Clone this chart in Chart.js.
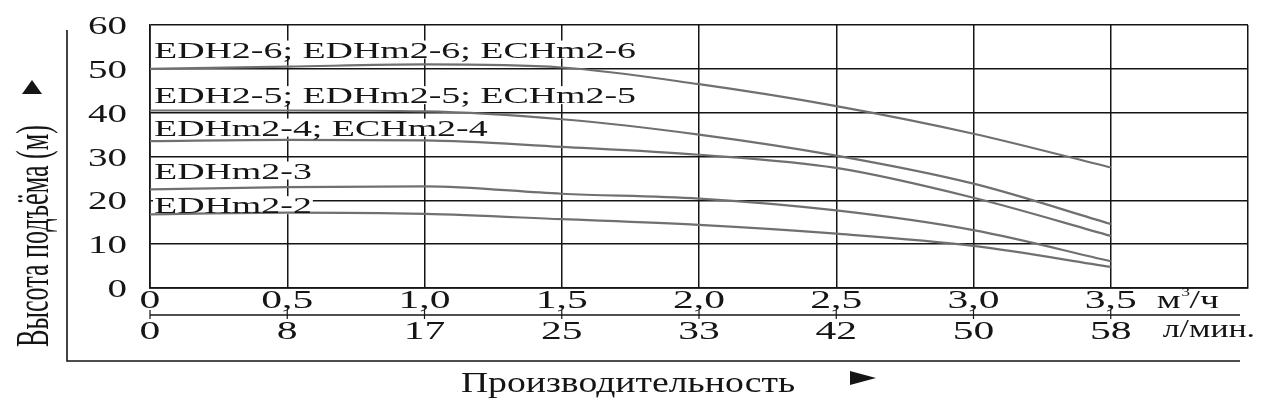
<!DOCTYPE html>
<html>
<head>
<meta charset="utf-8">
<script src="https://cdn.jsdelivr.net/npm/chart.js@4.4.1/dist/chart.umd.min.js"></script>
<style>
  html, body { margin: 0; padding: 0; background: #fff; }
  #wrap { width: 1280px; height: 404px; }
</style>
</head>
<body>
<div id="wrap"><canvas id="c"></canvas></div>
<script>
// flow, m3/h
const flowM3h = [0, 0.5, 1.0, 1.5, 2.0, 2.5, 3.0, 3.5];
const flowM3hLabels = ['0', '0,5', '1,0', '1,5', '2,0', '2,5', '3,0', '3,5'];
const flowLpmLabels = ['0', '8', '17', '25', '33', '42', '50', '58'];
const headTicks = [0, 10, 20, 30, 40, 50, 60];

// head, m
const headEDH2_6 = [50, 50.5, 51, 50.3, 46.5, 41.5, 35.2, 27.5];
const headEDH2_5 = [40.5, 40.5, 40.3, 38.5, 35, 30.2, 23.8, 14.6];
const headEDHm2_4 = [33.5, 33.8, 33.7, 32.2, 30.4, 27.4, 20.6, 11.9];
const headEDHm2_3 = [22.5, 23, 23.2, 21.5, 20.4, 17.7, 13.2, 6.1];
const headEDHm2_2 = [16.8, 17.2, 16.9, 15.7, 14.4, 12.4, 9.6, 4.8];

const curveNames = [
  'EDH2-6; EDHm2-6; ECHm2-6',
  'EDH2-5; EDHm2-5; ECHm2-5',
  'EDHm2-4; ECHm2-4',
  'EDHm2-3',
  'EDHm2-2'
];
const curveLabelAt = [54.4, 44, 36.6, 26.8, 18.9];

const SERIF = '"Liberation Serif", "DejaVu Serif", serif';
const INK = '#151515';

function pts(ys) {
  return ys.map((y, i) => ({ x: flowM3h[i], y: y }));
}

// text stretched horizontally, like the scanned sheet
function wideText(ctx, text, x, y, size, sx, align) {
  ctx.save();
  ctx.font = size + 'px ' + SERIF;
  const w = ctx.measureText(text).width * sx;
  let left = x;
  if (align === 'center') left = x - w / 2;
  if (align === 'right') left = x - w;
  ctx.translate(left, y);
  ctx.scale(sx, 1);
  ctx.textAlign = 'left';
  ctx.textBaseline = 'alphabetic';
  ctx.fillText(text, 0, 0);
  ctx.restore();
  return w;
}

function nameScale(ctx) {
  ctx.font = '23px ' + SERIF;
  return 482 / ctx.measureText(curveNames[0]).width;
}

const extras = {
  id: 'extras',
  beforeDatasetsDraw(chart) {
    // white knock-out behind the curve names, over the grid
    const { ctx, chartArea, scales } = chart;
    ctx.save();
    const sx = nameScale(ctx);
    ctx.fillStyle = '#fff';
    curveNames.forEach((name, i) => {
      const px = chartArea.left + 4;
      const py = scales.y.getPixelForValue(curveLabelAt[i]);
      const w = ctx.measureText(name).width * sx;
      ctx.fillRect(px - 1, py - 9, w + 2, 18);
    });
    ctx.restore();
  },
  afterDatasetsDraw(chart) {
    const { ctx, chartArea, scales } = chart;
    const x = scales.x, y = scales.y;
    ctx.save();
    ctx.fillStyle = INK;
    ctx.strokeStyle = INK;

    // y tick labels
    headTicks.forEach(v => {
      wideText(ctx, String(v), 127, y.getPixelForValue(v) + 9, 26, 1.5, 'right');
    });

    // curve names
    const sxName = nameScale(ctx);
    curveNames.forEach((name, i) => {
      const py = y.getPixelForValue(curveLabelAt[i]);
      wideText(ctx, name, chartArea.left + 4, py + 8, 23, sxName, 'left');
    });

    // row 1: m3/h
    const yRow1 = chartArea.bottom + 20;
    flowM3h.forEach((q, i) => {
      wideText(ctx, flowM3hLabels[i], x.getPixelForValue(q), yRow1, 26, 1.6, 'center');
    });
    const ux = x.getPixelForValue(3.5) + 46;
    const mw = wideText(ctx, 'м', ux, yRow1, 26, 1.45, 'left');
    wideText(ctx, '3', ux + mw + 1, yRow1 - 12, 13, 1.3, 'left');
    wideText(ctx, '/ч', ux + mw + 9, yRow1, 26, 1.45, 'left');

    // line between the two flow rows, with ticks
    const yMid = chartArea.bottom + 27;
    ctx.lineWidth = 1.6;
    ctx.beginPath();
    ctx.moveTo(chartArea.left, yMid);
    ctx.lineTo(chartArea.right - 8, yMid);
    ctx.stroke();
    ctx.lineWidth = 1.2;
    flowM3h.forEach(q => {
      const px = x.getPixelForValue(q);
      ctx.beginPath();
      ctx.moveTo(px, yMid - 5);
      ctx.lineTo(px, yMid + 4);
      ctx.stroke();
    });

    // row 2: l/min
    const yRow2 = chartArea.bottom + 51;
    flowLpmLabels.forEach((t, i) => {
      wideText(ctx, t, x.getPixelForValue(flowM3h[i]), yRow2, 26, 1.6, 'center');
    });
    wideText(ctx, 'л/мин.', ux + 6, yRow2 - 2, 26, 1.3, 'left');

    // frame: left rule and bottom rule
    const yBot = 361;
    ctx.lineWidth = 1.6;
    ctx.beginPath();
    ctx.moveTo(67, 30);
    ctx.lineTo(67, yBot);
    ctx.lineTo(chartArea.right - 8, yBot);
    ctx.stroke();

    // x title with arrow
    wideText(ctx, 'Производительность', 628, 392, 29, 1.3, 'center');
    ctx.beginPath();
    ctx.moveTo(850, 371);
    ctx.lineTo(876, 378);
    ctx.lineTo(850, 385);
    ctx.closePath();
    ctx.fill();

    // y title (rotated, condensed) with arrow
    ctx.save();
    ctx.translate(48, 236);
    ctx.rotate(-Math.PI / 2);
    ctx.font = '46px ' + SERIF;
    const yt = 'Высота подъёма (м)';
    const ytw = ctx.measureText(yt).width;
    ctx.scale(222 / ytw, 1);
    ctx.textAlign = 'center';
    ctx.textBaseline = 'alphabetic';
    ctx.fillText(yt, 0, 0);
    ctx.restore();
    ctx.beginPath();
    ctx.moveTo(22, 94);
    ctx.lineTo(32, 80);
    ctx.lineTo(42, 94);
    ctx.closePath();
    ctx.fill();

    ctx.restore();
  }
};

const gridStyle = { color: INK, lineWidth: 1.5, drawTicks: false };

new Chart(document.getElementById('c'), {
  type: 'line',
  data: {
    datasets: [headEDH2_6, headEDH2_5, headEDHm2_4, headEDHm2_3, headEDHm2_2].map((ys, i) => ({
      label: curveNames[i],
      data: pts(ys),
      borderColor: '#707070',
      borderWidth: 2.2,
      pointRadius: 0,
      fill: false,
      cubicInterpolationMode: 'monotone'
    }))
  },
  options: {
    responsive: true,
    maintainAspectRatio: false,
    animation: false,
    layout: { padding: { left: 0, right: 32, top: 25, bottom: 0 } },
    plugins: { legend: { display: false }, tooltip: { enabled: false } },
    scales: {
      x: {
        type: 'linear',
        min: 0,
        max: 4,
        grid: gridStyle,
        border: { color: INK, width: 1.7 },
        afterFit: s => { s.height = 116; },
        afterBuildTicks: s => {
          s.ticks = [0, 0.5, 1, 1.5, 2, 2.5, 3, 3.5, 4].map(v => ({ value: v }));
        },
        ticks: { display: false }
      },
      y: {
        min: 0,
        max: 60,
        grid: gridStyle,
        border: { color: INK, width: 1.7 },
        afterFit: s => { s.width = 150; },
        ticks: { display: false, stepSize: 10 }
      }
    }
  },
  plugins: [extras]
});
</script>
</body>
</html>
